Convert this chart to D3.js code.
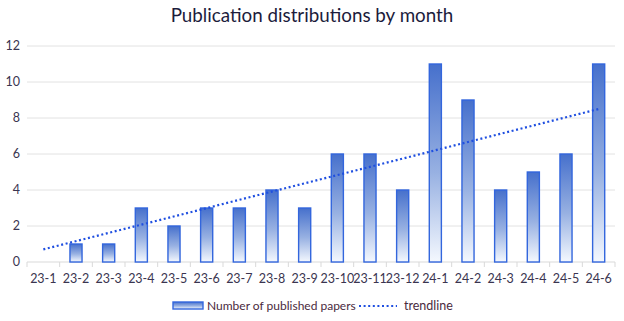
<!DOCTYPE html>
<html><head><meta charset="utf-8">
<script src="https://cdn.jsdelivr.net/npm/d3@7"></script>
<style>body{margin:0;background:#fff}svg{display:block}</style>
</head><body>
<script>
const categories = ["23-1","23-2","23-3","23-4","23-5","23-6","23-7","23-8","23-9","23-10","23-11","23-12","24-1","24-2","24-3","24-4","24-5","24-6"];
const papers = [0,1,1,3,2,3,3,4,3,6,6,4,11,9,4,5,6,11];
const trendline = [0.7, 8.5]; // values at first and last category
const yTicks = [0,2,4,6,8,10,12];
const title = "Publication distributions by month";
const seriesNames = ["Number of published papers","trendline"];

const W=624,H=321;
const m={l:27,r:9,t:46,b:59};
const svg=d3.select("body").append("svg").attr("width",W).attr("height",H);
const font="Lato, 'Open Sans', sans-serif";

const defs=svg.append("defs");
const g=defs.append("linearGradient").attr("id","bg").attr("x1",0).attr("y1",0).attr("x2",0).attr("y2",1);
g.append("stop").attr("offset","0%").attr("stop-color","#4670cc");
g.append("stop").attr("offset","55%").attr("stop-color","#98b1e2");
g.append("stop").attr("offset","100%").attr("stop-color","#f4f8fe");

const x=d3.scaleBand().domain(categories).range([m.l,W-m.r]).paddingInner(0.63).paddingOuter(0.315);
const xb=d3.scaleBand().domain(categories).range([m.l,W-m.r]);
const y=d3.scaleLinear().domain([0,12]).range([H-m.b,m.t]);

// gridlines
svg.append("g").selectAll("line").data(yTicks.filter(d=>d>0)).join("line")
 .attr("x1",m.l).attr("x2",W-m.r).attr("y1",d=>y(d)).attr("y2",d=>y(d))
 .attr("stroke","#e2e2e2").attr("stroke-width",1);

// y labels
svg.append("g").selectAll("text").data(yTicks).join("text")
 .attr("x",20).attr("y",d=>y(d)+4).attr("text-anchor","end")
 .attr("font-family",font).attr("font-size",12.5).attr("fill","#3a3550").text(d=>d);

// x axis
const xa=svg.append("g").attr("transform",`translate(0,${H-m.b})`);
xa.append("line").attr("x1",m.l).attr("x2",W-m.r).attr("stroke","#d9d9d9");
xa.selectAll("line.t").data(categories.concat(["end"])).join("line").attr("class","t")
 .attr("x1",(d,i)=>i<categories.length?xb(d):W-m.r).attr("x2",(d,i)=>i<categories.length?xb(d):W-m.r)
 .attr("y1",0).attr("y2",5).attr("stroke","#d9d9d9");
xa.selectAll("text").data(categories).join("text")
 .attr("x",d=>xb(d)+xb.bandwidth()/2).attr("y",21).attr("text-anchor","middle")
 .attr("font-family",font).attr("font-size",12.5).attr("fill","#3a3550").text(d=>d);

// bars
svg.append("g").selectAll("rect").data(papers).join("rect")
 .attr("x",(d,i)=>x(categories[i])).attr("width",x.bandwidth())
 .attr("y",d=>y(d)).attr("height",d=>y(0)-y(d))
 .attr("fill","url(#bg)").attr("stroke","#3366dd").attr("stroke-width",1.4)
 .attr("display",d=>d>0?null:"none");

// trendline
const c0=xb(categories[0])+xb.bandwidth()/2, c1=xb(categories[categories.length-1])+xb.bandwidth()/2;
svg.append("line").attr("x1",c0).attr("x2",c1).attr("y1",y(trendline[0])).attr("y2",y(trendline[1]))
 .attr("stroke","#1f4fe0").attr("stroke-width",2.2).attr("stroke-dasharray","2,2.6");

// title
svg.append("text").attr("x",312).attr("y",22).attr("text-anchor","middle")
 .attr("font-family",font).attr("font-size",18.8).attr("fill","#1c1c3c").text(title);

// legend
const lg=svg.append("g");
lg.append("rect").attr("x",173).attr("y",302).attr("width",30).attr("height",7)
 .attr("fill","url(#bg)").attr("stroke","#3366dd").attr("stroke-width",1.4);
lg.append("text").attr("x",207).attr("y",310).attr("font-family",font).attr("font-size",12).attr("fill","#4a2a40").text(seriesNames[0]);
lg.append("line").attr("x1",359).attr("x2",397).attr("y1",306).attr("y2",306)
 .attr("stroke","#1f4fe0").attr("stroke-width",2).attr("stroke-dasharray","2,2.6");
lg.append("text").attr("x",404).attr("y",310).attr("font-family",font).attr("font-size",12.5).attr("fill","#4a2a40").text(seriesNames[1]);
</script>
</body></html>
